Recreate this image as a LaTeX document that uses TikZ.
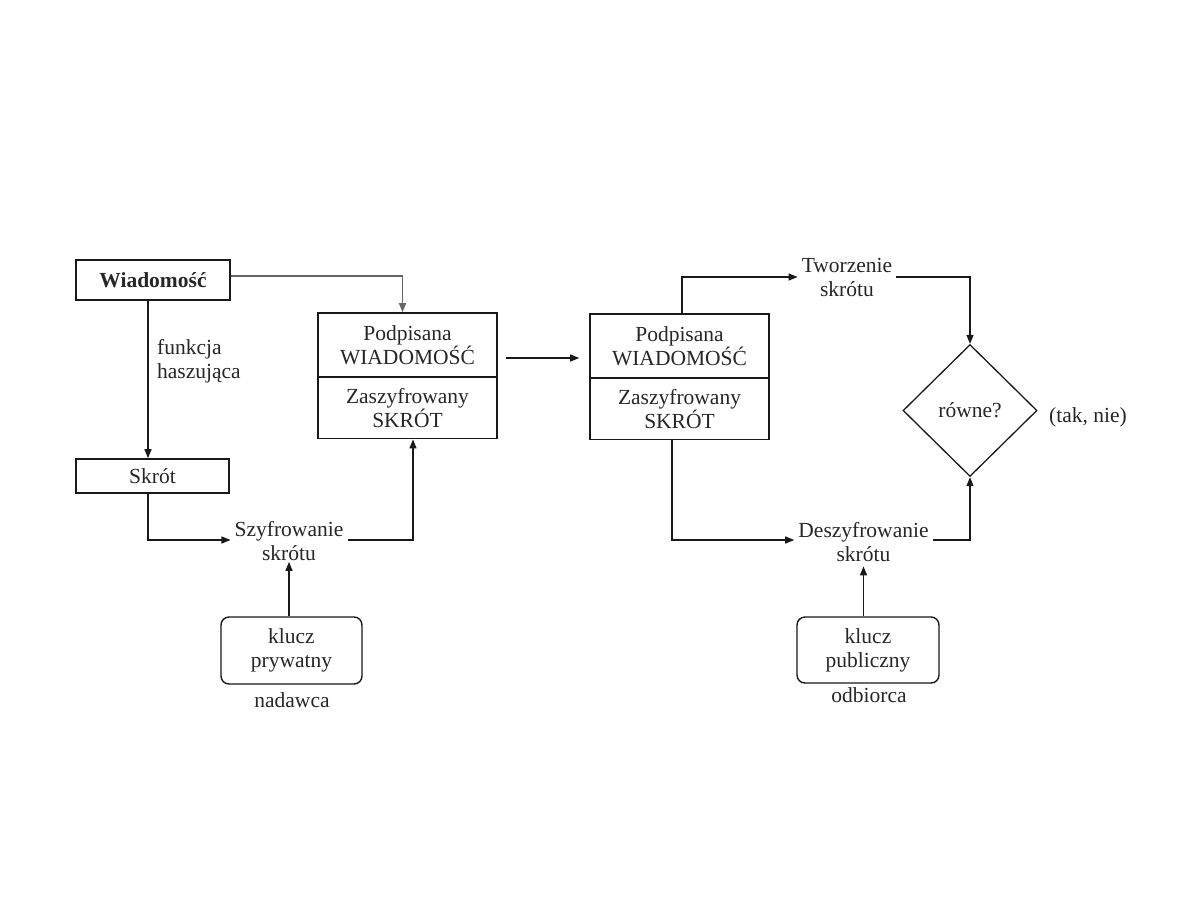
\documentclass[tikz,border=0pt]{standalone}
\usepackage{fontspec}
\setmainfont{Liberation Serif}
\usetikzlibrary{arrows.meta,shapes.geometric,calc}
\begin{document}
\begin{tikzpicture}[x=1pt,y=-1pt,
  every node/.style={font=\fontsize{21.5}{24}\selectfont, text=black!85},
  box/.style={draw=black!90, line width=1.6pt, inner sep=0pt, align=center},
  rbox/.style={box, rounded corners=8pt, line width=1.4pt},
  lbl/.style={align=center, inner sep=4pt},
  arr/.style={-{Triangle[length=9pt,width=7pt]}, line width=1.3pt, draw=black!90},
  grayarr/.style={arr, draw=black!60}]
\path[use as bounding box] (0,0) rectangle (1188,918);

% left side
\node[box, minimum width=154, minimum height=40] (w) at (153,280) {\bfseries Wiadomość};
\node[box, minimum width=153, minimum height=34] (s) at (152.5,476) {Skrót};
\node[anchor=west, align=left, inner sep=0pt] (fh) at (157,361) {funkcja\\haszująca};

\node[box, minimum width=179, minimum height=64] (lt) at (407.5,345) {Podpisana\\WIADOMOŚĆ};
\node[box, minimum width=179, minimum height=61.6, anchor=north] (lb) at ([yshift=1.6]lt.south) {Zaszyfrowany\\SKRÓT};

\node[lbl] (sz) at (289,541) {Szyfrowanie\\skrótu};
\node[rbox, minimum width=141, minimum height=67] (kp) at (291.5,650.5) {klucz\\prywatny};
\node (nad) at (292,700) {nadawca};

% right side
\node[box, minimum width=179, minimum height=64] (rt) at (679.5,346) {Podpisana\\WIADOMOŚĆ};
\node[box, minimum width=179, minimum height=61.6, anchor=north] (rb) at ([yshift=1.6]rt.south) {Zaszyfrowany\\SKRÓT};

\node[lbl] (tw) at (847,277) {Tworzenie\\skrótu};
\node[lbl] (de) at (863.5,542.5) {Deszyfrowanie\\skrótu};
\node[draw=black!90, diamond, line width=1.3pt, minimum width=134, minimum height=132, inner sep=0pt] (d) at (970,410.5) {równe?};
\node (tn) at (1088,417) {(tak, nie)};
\node[rbox, minimum width=142, minimum height=66] (kpub) at (868,650) {klucz\\publiczny};
\node (odb) at (869,695) {odbiorca};

% connectors left
\draw[grayarr] ([yshift=4]w.east) -| ([xshift=-5]lt.north);
\draw[arr] ([xshift=-5]w.south) -- ([xshift=-5]w.south |- s.north);
\draw[arr] ([xshift=-4.5]s.south) |- ([yshift=1]sz.west);
\draw[arr] ([yshift=1]sz.east) -| ([xshift=5.5]lb.south);
\draw[arr] (kp.north -| sz.south) -- ([yshift=3]sz.south);

% middle
\draw[arr] ([xshift=8,yshift=-13]lt.east) -- ([xshift=-10,yshift=-13]lt.east -| rt.west);

% connectors right
\draw[arr] ([xshift=2.5]rt.north) |- (tw.west);
\draw[arr] (tw.east) -| (d.north);
\draw[arr] ([xshift=-7.5]rb.south) |- ([yshift=2.5]de.west);
\draw[arr] ([yshift=2.5]de.east) -| (d.south);
\draw[arr] (kpub.north -| de.south) -- (de.south);
\end{tikzpicture}
\end{document}
